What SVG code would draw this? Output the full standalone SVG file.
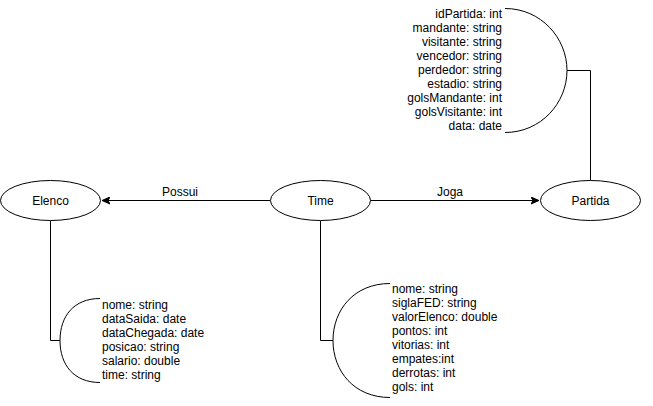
<svg xmlns="http://www.w3.org/2000/svg" width="653" height="406" viewBox="0 0 653 406">
<style>
.node{fill:#fff;stroke:#000;stroke-width:1}
.lbl{font-family:"Liberation Sans",Arial,sans-serif;font-size:12px;fill:#000}
.c{text-anchor:middle}
.r{text-anchor:end}
.edge{fill:none;stroke:#000;stroke-width:1}
.brace{fill:none;stroke:#000;stroke-width:1}
</style>
<defs>
<marker id="arr" viewBox="0 0 8 8" refX="8" refY="4" markerWidth="8" markerHeight="8" orient="auto" markerUnits="userSpaceOnUse">
<path d="M0,0.5 L8,4 L0,7.5 L2,4 Z" fill="#000" stroke="#000" stroke-width="1"/>
</marker>
</defs>
<rect width="653" height="406" fill="#fff"/>
<g id="connectors">
<path class="edge" d="M270 200.5 L102 200.5" marker-end="url(#arr)"/>
<path class="edge" d="M370.5 200.5 L539 200.5" marker-end="url(#arr)"/>
<path class="edge" d="M50.5 220.5 L50.5 340.5 L60 340.5"/>
<path class="edge" d="M320.5 220.5 L320.5 340.5 L333 340.5"/>
<path class="edge" d="M590.5 180.5 L590.5 70.5 L567 70.5"/>
<text class="lbl c" x="180" y="196">Possui</text>
<text class="lbl c" x="450" y="196">Joga</text>
</g>
<g id="elenco">
<ellipse class="node" cx="50.5" cy="200.5" rx="50" ry="20"/>
<text class="lbl c" x="50.5" y="205">Elenco</text>
</g>
<g id="time">
<ellipse class="node" cx="320.5" cy="200.5" rx="50" ry="20"/>
<text class="lbl c" x="320.5" y="205">Time</text>
</g>
<g id="partida">
<ellipse class="node" cx="590.5" cy="200.5" rx="50" ry="20"/>
<text class="lbl c" x="590.5" y="205">Partida</text>
</g>
<g id="elenco-attrs">
<path class="brace" d="M100 298.5 C74 298.5 60 316 60 340.5 C60 365 74 382.5 100 382.5"/>
<text class="lbl" x="102" y="309">nome: string</text>
<text class="lbl" x="102" y="323">dataSaida: date</text>
<text class="lbl" x="102" y="337">dataChegada: date</text>
<text class="lbl" x="102" y="351">posicao: string</text>
<text class="lbl" x="102" y="365">salario: double</text>
<text class="lbl" x="102" y="379">time: string</text>
</g>
<g id="time-attrs">
<path class="brace" d="M390 283.5 C354 283.5 333 310 333 340.5 C333 371 354 397.5 390 397.5"/>
<text class="lbl" x="392" y="293">nome: string</text>
<text class="lbl" x="392" y="307">siglaFED: string</text>
<text class="lbl" x="392" y="321">valorElenco: double</text>
<text class="lbl" x="392" y="335">pontos: int</text>
<text class="lbl" x="392" y="349">vitorias: int</text>
<text class="lbl" x="392" y="363">empates:int</text>
<text class="lbl" x="392" y="377">derrotas: int</text>
<text class="lbl" x="392" y="391">gols: int</text>
</g>
<g id="partida-attrs">
<path class="brace" d="M505 8.5 C541 8.5 567 38 567 70.5 C567 103 541 132.5 505 132.5"/>
<text class="lbl r" x="502" y="18">idPartida: int</text>
<text class="lbl r" x="502" y="32">mandante: string</text>
<text class="lbl r" x="502" y="46">visitante: string</text>
<text class="lbl r" x="502" y="60">vencedor: string</text>
<text class="lbl r" x="502" y="74">perdedor: string</text>
<text class="lbl r" x="502" y="88">estadio: string</text>
<text class="lbl r" x="502" y="102">golsMandante: int</text>
<text class="lbl r" x="502" y="116">golsVisitante: int</text>
<text class="lbl r" x="502" y="130">data: date</text>
</g>
</svg>
